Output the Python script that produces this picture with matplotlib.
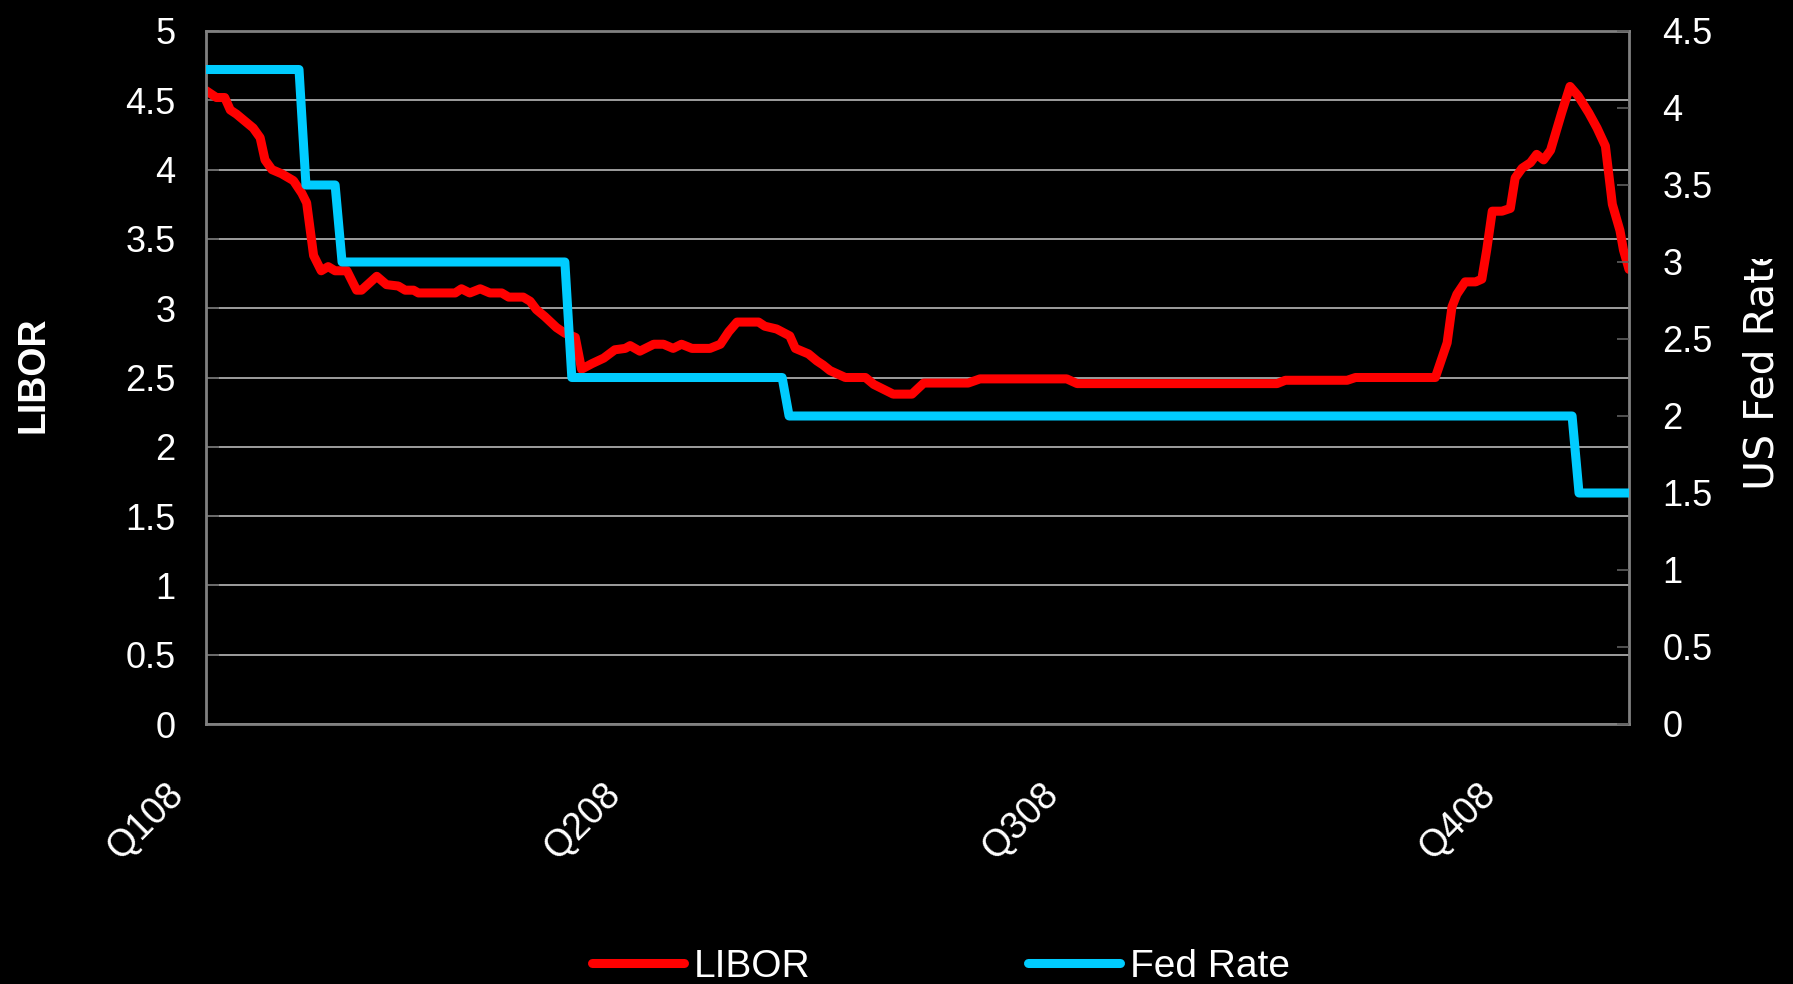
import matplotlib
matplotlib.use("Agg")
import matplotlib.pyplot as plt
from matplotlib.transforms import ScaledTranslation, Bbox, TransformedBbox

# ---------------- data ----------------
x_tick_pos = [0, 63, 126, 189]
x_tick_labels = ["Q108", "Q208", "Q308", "Q408"]

libor_day = [0, 1.5, 2.7, 3.5, 4.4, 5.6, 6.8, 7.8, 8.5, 9.5, 10.9, 12.6, 13.8, 14.5,
             15.5, 16.6, 17.6, 18.6, 20.3, 21.7, 22.4, 24.6, 26.0, 27.7, 28.7, 29.9,
             30.6, 35.9, 36.8, 38.0, 39.5, 40.9, 42.6, 43.6, 45.7, 46.7, 47.6, 48.8,
             50.5, 51.7, 53.2, 54.1, 55.6, 57.3, 58.9, 60.4, 61.1, 62.5, 64.5, 65.9,
             67.3, 68.5, 70.0, 72.6, 74.1, 75.3, 76.5, 79.6, 80.5, 82.2, 84.1, 84.9,
             86.8, 88.0, 88.9, 89.9, 92.1, 95.0, 96.2, 99.0, 101.7, 103.4, 109.8,
             111.5, 124.0, 125.5, 154.3, 155.5, 164.4, 165.6, 177.1, 178.8, 179.5,
             180.2, 181.4, 182.9, 183.8, 184.5, 185.3, 186.7, 187.9, 188.6, 189.6,
             190.8, 191.7, 192.7, 193.7, 195.3, 196.5, 197.7, 199.2, 200.4, 201.6,
             202.6, 203.7, 204.2, 205]
libor_rate = [4.57, 4.52, 4.52, 4.43, 4.40, 4.35, 4.30, 4.23, 4.07, 4.00, 3.97, 3.92, 3.83, 3.76,
              3.38, 3.27, 3.30, 3.27, 3.27, 3.13, 3.13, 3.23, 3.17, 3.16, 3.13, 3.13,
              3.11, 3.11, 3.14, 3.11, 3.14, 3.11, 3.11, 3.08, 3.08, 3.05, 2.99, 2.94,
              2.86, 2.82, 2.79, 2.56, 2.60, 2.64, 2.70, 2.71, 2.73, 2.69, 2.74, 2.74,
              2.71, 2.74, 2.71, 2.71, 2.74, 2.83, 2.90, 2.90, 2.87, 2.85, 2.80, 2.71,
              2.67, 2.62, 2.59, 2.55, 2.50, 2.50, 2.45, 2.38, 2.38, 2.46, 2.46,
              2.49, 2.49, 2.456, 2.456, 2.48, 2.48, 2.50, 2.50, 2.75, 3.01,
              3.10, 3.19, 3.19, 3.21, 3.42, 3.70, 3.70, 3.72, 3.94, 4.01,
              4.05, 4.11, 4.07, 4.14, 4.41, 4.60, 4.53, 4.41, 4.30, 4.17,
              3.75, 3.56, 3.42, 3.28]

fed_day = [0, 13.4, 14.4, 18.6, 19.6, 51.7, 52.7, 83.0, 84.0, 196.8, 197.8, 205]
fed_rate = [4.25, 4.25, 3.5, 3.5, 3.0, 3.0, 2.25, 2.25, 2.0, 2.0, 1.5, 1.5]

left_ticks = [0, 0.5, 1, 1.5, 2, 2.5, 3, 3.5, 4, 4.5, 5]
left_labels = ["0", "0.5", "1", "1.5", "2", "2.5", "3", "3.5", "4", "4.5", "5"]
right_ticks = [0, 0.5, 1, 1.5, 2, 2.5, 3, 3.5, 4, 4.5]
right_labels = ["0", "0.5", "1", "1.5", "2", "2.5", "3", "3.5", "4", "4.5"]

# ---------------- figure ----------------
plt.rcParams["font.family"] = ["Liberation Sans", "DejaVu Sans"]
W, H, DPI = 1793, 984, 100
fig = plt.figure(figsize=(W / DPI, H / DPI), dpi=DPI, facecolor="black")
ax = fig.add_axes([206 / W, 1 - 724 / H, (1629 - 206) / W, (724 - 31) / H])
ax.set_facecolor("black")

BORDER = "#808080"
GRID = "#c8c8c8"
TICKC = "#606060"

ax.set_xlim(0, 205)
ax.set_ylim(0, 5)
ax.set_yticks(left_ticks)
ax.set_yticklabels(left_labels)
ax.yaxis.grid(True, color=GRID, linewidth=1.1)
ax.set_axisbelow(True)
for s in ax.spines.values():
    s.set_color(BORDER)
    s.set_linewidth(2.0)

ax.tick_params(axis="y", direction="in", length=9, width=1.2, color=TICKC,
               labelcolor="white", labelsize=26, pad=22)
ax.set_xticks(x_tick_pos)
ax.set_xticklabels(x_tick_labels)
ax.tick_params(axis="x", length=0, labelcolor="white", labelsize=27, pad=47)
for lbl in ax.get_xticklabels():
    lbl.set_rotation(45)
    lbl.set_ha("right")
    lbl.set_va("center")
    lbl.set_rotation_mode("anchor")
    lbl.set_transform(lbl.get_transform() + ScaledTranslation(-0.28, 0, fig.dpi_scale_trans))

LW = 6.5
l1, = ax.plot(libor_day, libor_rate, color="#ff0000", linewidth=LW,
              solid_joinstyle="round", solid_capstyle="round", label="LIBOR")

ax2 = ax.twinx()
ax2.set_ylim(0, 4.5)
ax2.set_yticks(right_ticks)
ax2.set_yticklabels(right_labels)
for s in ax2.spines.values():
    s.set_visible(False)
ax2.tick_params(axis="y", direction="in", length=9, width=1.2, color=TICKC,
                labelcolor="white", labelsize=26, pad=24)
l2, = ax2.plot(fed_day, fed_rate, color="#00ccff", linewidth=LW,
               solid_joinstyle="round", solid_capstyle="round", label="Fed Rate")

# axis titles
fig.text(34 / W, 1 - 375 / H, "LIBOR", rotation=90, color="white", fontsize=27,
         fontweight="bold", ha="center", va="center")
t = fig.text(1762 / W, 1 - 490 / H, "US Fed Rate", rotation=90, color="white",
             fontsize=29.5, family=["DejaVu Sans"], ha="center", va="bottom")
t.set_clip_box(TransformedBbox(Bbox([[0, 0], [1, 1 - 259 / H]]), fig.transFigure))
t.set_clip_on(True)

leg = fig.legend(handles=[l1, l2], loc="center", bbox_to_anchor=(941 / W, 17 / H),
                 ncol=2, frameon=False, fontsize=28,
                 handlelength=2.37, handletextpad=0.24, columnspacing=5.6,
                 labelcolor="white", borderpad=0)

fig.savefig("out.png", dpi=DPI, facecolor="black")
